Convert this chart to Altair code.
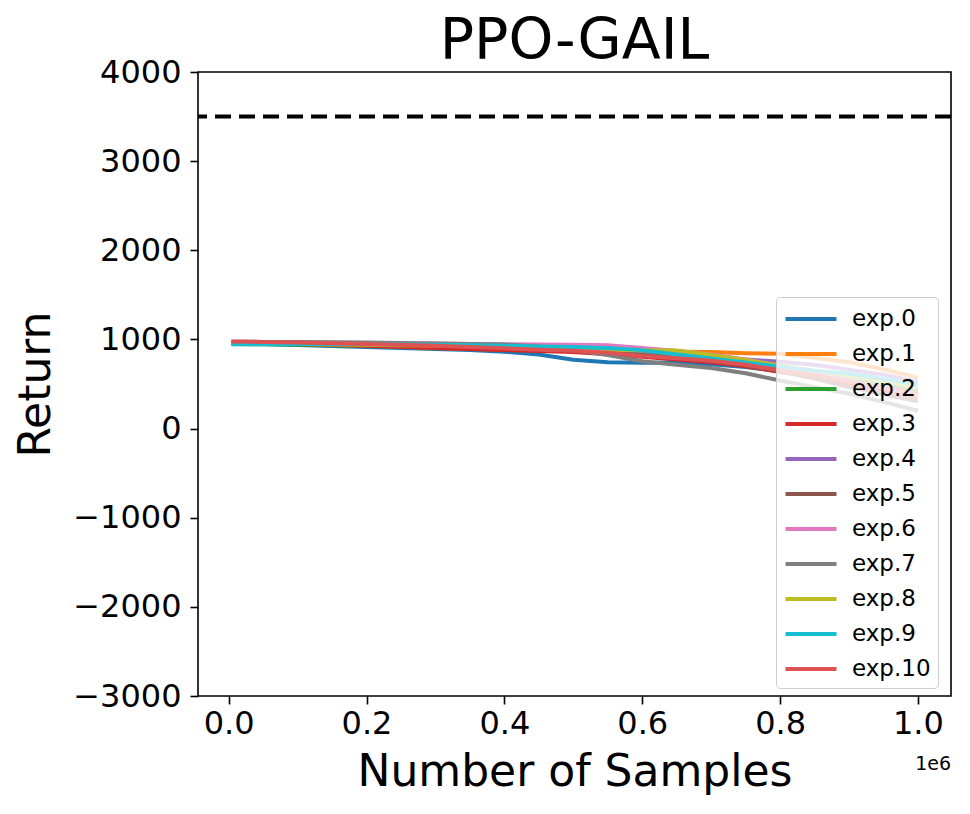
import altair as alt
import pandas as pd

# ---- data ----
SAMPLES = [4096, 50000, 100000, 150000, 200000, 250000, 300000, 350000, 400000,
           450000, 500000, 550000, 600000, 650000, 700000, 750000, 800000,
           850000, 900000, 950000, 1000000]

EXP_0 = [960, 950, 938, 925, 915, 905, 893, 880, 862, 830, 772, 745, 738, 742, 722, 690, 645, 595, 545, 495, 440]
EXP_1 = [965, 958, 950, 940, 928, 918, 905, 895, 885, 878, 872, 868, 866, 862, 858, 846, 838, 795, 745, 665, 572]
EXP_2 = [948, 945, 940, 935, 930, 925, 918, 912, 905, 895, 885, 872, 860, 835, 795, 745, 685, 625, 560, 505, 440]
EXP_3 = [968, 960, 950, 940, 930, 918, 905, 893, 880, 870, 860, 835, 805, 775, 745, 700, 635, 575, 500, 430, 350]
EXP_4 = [965, 962, 960, 955, 950, 945, 940, 935, 928, 918, 905, 890, 870, 835, 800, 775, 750, 715, 660, 605, 525]
EXP_5 = [965, 962, 958, 955, 952, 945, 935, 925, 915, 900, 880, 855, 820, 795, 760, 710, 645, 560, 465, 385, 305]
EXP_6 = [968, 966, 965, 962, 960, 958, 955, 950, 945, 942, 940, 936, 905, 870, 830, 775, 705, 625, 540, 460, 380]
EXP_7 = [975, 972, 970, 968, 965, 960, 955, 950, 942, 920, 880, 825, 755, 715, 680, 620, 540, 465, 390, 300, 200]
EXP_8 = [955, 952, 948, 944, 940, 936, 932, 926, 920, 910, 898, 885, 880, 875, 825, 770, 705, 650, 590, 530, 460]
EXP_9 = [945, 947, 950, 950, 948, 945, 940, 935, 930, 922, 915, 905, 880, 830, 785, 740, 695, 650, 615, 560, 490]
EXP_10 = [978, 972, 965, 958, 950, 940, 928, 915, 900, 885, 872, 850, 815, 790, 760, 715, 655, 600, 525, 460, 400]

SERIES = ["exp.0", "exp.1", "exp.2", "exp.3", "exp.4", "exp.5",
          "exp.6", "exp.7", "exp.8", "exp.9", "exp.10"]
VALUES = [EXP_0, EXP_1, EXP_2, EXP_3, EXP_4, EXP_5, EXP_6, EXP_7, EXP_8, EXP_9, EXP_10]
COLORS = ["#1f77b4", "#ff7f0e", "#2ca02c", "#d62728", "#9467bd", "#8c564b",
          "#e377c2", "#7f7f7f", "#bcbd22", "#17becf", "#de5253"]

EXPERT_RETURN = [3500]
X_TICKS = [0, 200000, 400000, 600000, 800000, 1000000]
Y_TICKS = [-3000, -2000, -1000, 0, 1000, 2000, 3000, 4000]

rows = []
for name, vals in zip(SERIES, VALUES):
    for x, v in zip(SAMPLES, vals):
        rows.append({"samples": x, "ret": v, "exp": name})
df = pd.DataFrame(rows)

FONT = "DejaVu Sans"

x_scale = alt.Scale(domain=[-44500, 1048000], nice=False, zero=False)
y_scale = alt.Scale(domain=[-3000, 4000], nice=False, zero=False)

lines = alt.Chart(df).mark_line(strokeWidth=4, clip=True).encode(
    x=alt.X("samples:Q", scale=x_scale,
            axis=alt.Axis(values=X_TICKS, labelExpr="format(datum.value / 1000000, '.1f')",
                          title="Number of Samples", titleFontSize=44, titlePadding=11,
                          labelFontSize=32, labelPadding=4)),
    y=alt.Y("ret:Q", scale=y_scale,
            axis=alt.Axis(values=Y_TICKS, format="d", title="Return",
                          titleFontSize=44, titlePadding=14,
                          labelFontSize=32, labelPadding=9)),
    color=alt.Color("exp:N", scale=alt.Scale(domain=SERIES, range=COLORS),
                    legend=alt.Legend(orient="none", legendX=578, legendY=225,
                                      title=None, symbolType="M-2,0H2", symbolSize=650,
                                      symbolStrokeWidth=4, symbolOffset=13,
                                      labelFontSize=23, labelFont=FONT, labelColor="black",
                                      rowPadding=8, padding=7, labelOffset=26,
                                      fillColor="rgba(255,255,255,0.8)", strokeColor="#cccccc",
                                      cornerRadius=4, zindex=1)),
    detail="exp:N",
)

rule = alt.Chart(pd.DataFrame({"y": EXPERT_RETURN})).mark_rule(
    color="black", strokeWidth=4, strokeDash=[16, 8]
).encode(y=alt.Y("y:Q", scale=y_scale))

offset_text = alt.Chart(pd.DataFrame({"t": ["1e6"]})).mark_text(
    align="right", baseline="alphabetic", fontSize=19, font=FONT, color="black"
).encode(x=alt.datum(1048000), y=alt.value(698), text="t:N")

chart = alt.layer(lines, rule, offset_text).properties(
    width=753, height=624,
    title=alt.TitleParams("PPO-GAIL", fontSize=57, font=FONT, fontWeight="normal",
                          color="black", offset=10, dy=25),
    autosize=alt.AutoSizeParams(type="none"),
    padding={"left": 190, "top": 64, "right": 9, "bottom": 100},
).configure_view(
    stroke="black", strokeWidth=1.6
).configure_axis(
    grid=False, domain=False, tickColor="black", tickWidth=1.6, tickSize=8,
    labelColor="black", titleColor="black", labelFont=FONT, titleFont=FONT,
    titleFontWeight="normal"
)

chart.save("out.html", embed_options={"renderer": "svg", "actions": False})
